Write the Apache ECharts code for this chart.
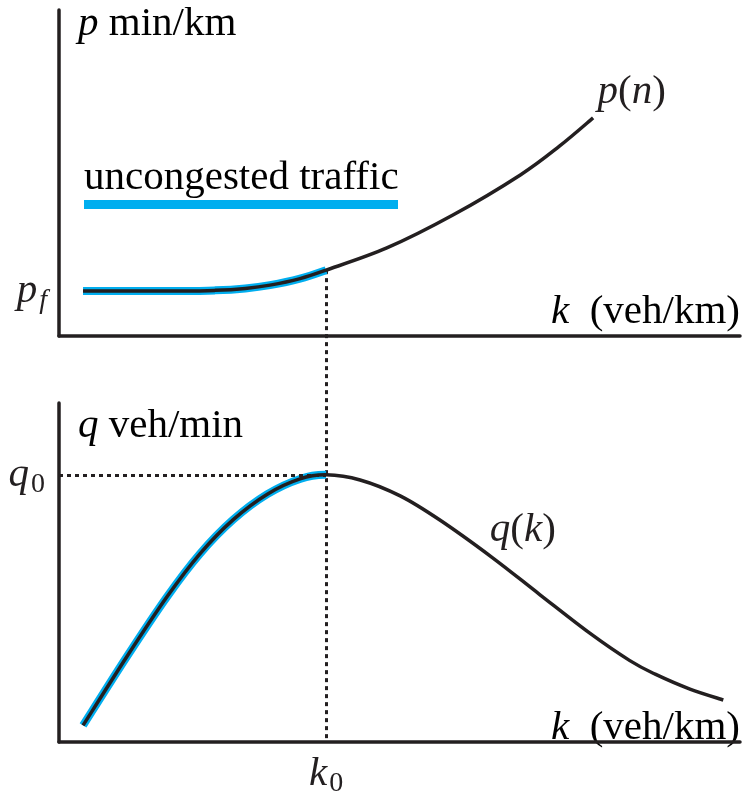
<!DOCTYPE html>
<html>
<head>
<meta charset="utf-8">
<title>Travel time and flow against density</title>
<script src="https://cdn.jsdelivr.net/npm/echarts@6/dist/echarts.min.js"></script>
<style>
  html, body { margin: 0; padding: 0; background: #fff; }
  #chart { width: 747px; height: 798px; }
</style>
</head>
<body>
<div id="chart"></div>
<script>
// Travel time per km p against density k (upper panel)
const kTop = [0.36, 1.81, 2.34, 2.79, 3.16, 3.61, 4.0, 4.91, 5.90, 6.91, 7.50, 8.0];
const pVal = [1.38, 1.38, 1.40, 1.46, 1.56, 1.76, 2.02, 2.70, 3.71, 4.94, 5.83, 6.69];

// Flow q against density k (lower panel)
const kBot = [0.36, 1.02, 1.62, 2.11, 2.61, 3.12, 3.61, 4.0, 4.51, 5.11, 5.71, 6.49, 7.20, 7.95, 8.55, 8.93, 9.45, 9.95];
const qVal = [0.49, 2.53, 4.29, 5.55, 6.56, 7.31, 7.76, 7.88, 7.73, 7.26, 6.54, 5.44, 4.35, 3.21, 2.40, 2.00, 1.56, 1.24];

// Reference values marked on the axes
const k0 = 4.0;
const pFree = 1.38;
const q0 = 7.88;
const pAtK0 = 2.02;

// Where the q(k) name sits along the curve
const qNameAt = [6.49, 5.44];

// Axis extents
const kMax = 10.2;
const yMax = 10;

const INK = '#231f20';
const BLUE = '#00aeef';
const FONT = '"Liberation Serif", "DejaVu Serif", serif';

const rich = {
  i: { fontFamily: FONT, fontStyle: 'italic', fontSize: 41, color: INK, lineHeight: 48, verticalAlign: 'middle' },
  t: { fontFamily: FONT, fontSize: 41, color: INK, lineHeight: 48, verticalAlign: 'middle' },
  si: { fontFamily: FONT, fontStyle: 'italic', fontSize: 28, color: INK, verticalAlign: 'bottom', padding: [0, 0, 0, 2] },
  s: { fontFamily: FONT, fontSize: 28, color: INK, verticalAlign: 'bottom', padding: [0, 0, 0, 2] }
};

function pairs(xs, ys) {
  return xs.map((x, i) => [x, ys[i]]);
}

// A smooth curve through every data point (Catmull-Rom, drawn as cubic Béziers).
// Only the segments up to point `lastIdx` are stroked, but tangents use all points,
// so a partial overlay follows the full curve exactly.
function curveSeries(opts) {
  return {
    type: 'custom',
    name: opts.name,
    xAxisIndex: opts.axis, yAxisIndex: opts.axis,
    z: opts.z, silent: true,
    data: pairs(opts.xs, opts.ys),
    encode: { x: 0, y: 1 },
    renderItem: function (params, api) {
      if (params.dataIndexInside !== 0) return;
      const n = params.dataInsideLength;
      const pts = [];
      for (let i = 0; i < n; i++) pts.push(api.coord([api.value(0, i), api.value(1, i)]));
      const end = Math.min(opts.lastIdx === undefined ? n - 1 : opts.lastIdx, n - 1);
      let d = 'M' + pts[0][0] + ',' + pts[0][1];
      for (let i = 0; i < end; i++) {
        const p0 = pts[Math.max(i - 1, 0)], p1 = pts[i], p2 = pts[i + 1], p3 = pts[Math.min(i + 2, n - 1)];
        const c1 = [p1[0] + (p2[0] - p0[0]) / 6, p1[1] + (p2[1] - p0[1]) / 6];
        const c2 = [p2[0] - (p3[0] - p1[0]) / 6, p2[1] - (p3[1] - p1[1]) / 6];
        d += ' C' + c1[0] + ',' + c1[1] + ' ' + c2[0] + ',' + c2[1] + ' ' + p2[0] + ',' + p2[1];
      }
      return {
        type: 'path',
        shape: { pathData: d },
        style: { fill: 'none', stroke: opts.color, lineWidth: opts.width, lineJoin: 'round', lineCap: 'butt' }
      };
    },
    markPoint: opts.markPoint,
    markLine: opts.markLine
  };
}

const axisLine = { show: true, onZero: false, lineStyle: { color: INK, width: 3.5 } };
const hiddenMark = { symbol: 'rect', symbolSize: [1, 1], itemStyle: { color: 'rgba(0,0,0,0)' } };

const chart = echarts.init(document.getElementById('chart'), null, { renderer: 'canvas' });

chart.setOption({
  animation: false,
  backgroundColor: '#fff',
  grid: [
    { left: 59, right: 7, top: 10, bottom: 462 },
    { left: 59, right: 7, top: 403, bottom: 48 }
  ],
  xAxis: [
    {
      gridIndex: 0, type: 'value', min: 0, max: kMax,
      axisLine: axisLine, axisTick: { show: false }, splitLine: { show: false },
      axisLabel: { show: false }
    },
    {
      gridIndex: 1, type: 'value', min: 0, max: kMax,
      axisLine: axisLine, axisTick: { show: false }, splitLine: { show: false },
      axisLabel: {
        show: true, customValues: [k0], margin: 8,
        formatter: () => '{i|k}{s|0}', rich: rich
      }
    }
  ],
  yAxis: [
    {
      gridIndex: 0, type: 'value', min: 0, max: yMax,
      axisLine: axisLine, axisTick: { show: false }, splitLine: { show: false },
      axisLabel: {
        show: true, customValues: [pFree], margin: 12,
        formatter: () => '{i|p}{si|f}', rich: rich
      }
    },
    {
      gridIndex: 1, type: 'value', min: 0, max: yMax,
      axisLine: axisLine, axisTick: { show: false }, splitLine: { show: false },
      axisLabel: {
        show: true, customValues: [q0], margin: 14,
        formatter: () => '{i|q}{s|0}', rich: rich
      }
    }
  ],
  series: [
    curveSeries({
      name: 'uncongested p', axis: 0, xs: kTop, ys: pVal, lastIdx: kTop.indexOf(k0),
      color: BLUE, width: 8, z: 2
    }),
    curveSeries({
      name: 'p(n)', axis: 0, xs: kTop, ys: pVal,
      color: INK, width: 3.5, z: 3,
      markPoint: Object.assign({
        silent: true,
        label: {
          show: true, position: 'right', distance: 4, offset: [0, -26],
          formatter: () => '{i|p}{t|(}{i|n}{t|)}', rich: rich
        },
        data: [{ coord: [kTop[kTop.length - 1], pVal[pVal.length - 1]] }]
      }, hiddenMark)
    }),
    curveSeries({
      name: 'uncongested q', axis: 1, xs: kBot, ys: qVal, lastIdx: kBot.indexOf(k0),
      color: BLUE, width: 8, z: 2
    }),
    curveSeries({
      name: 'q(k)', axis: 1, xs: kBot, ys: qVal,
      color: INK, width: 3.5, z: 3,
      markLine: {
        silent: true, symbol: 'none', label: { show: false },
        lineStyle: { color: INK, width: 3, type: [4, 4] },
        data: [[{ coord: [0, q0] }, { coord: [k0, q0] }]]
      },
      markPoint: Object.assign({
        silent: true,
        label: {
          show: true, position: 'right', distance: 0, offset: [-3, -27],
          formatter: () => '{i|q}{t|(}{i|k}{t|)}', rich: rich
        },
        data: [{ coord: qNameAt }]
      }, hiddenMark)
    })
  ]
});

// Dotted guide at k0 from the travel-time curve down to the lower k axis
const pTop = chart.convertToPixel({ xAxisIndex: 0, yAxisIndex: 0 }, [k0, pAtK0]);
const pBot = chart.convertToPixel({ xAxisIndex: 1, yAxisIndex: 1 }, [k0, 0]);

chart.setOption({
  graphic: [
    {
      type: 'line', z: 1, silent: true,
      shape: { x1: Math.round(pTop[0]) + 0.5, y1: pTop[1], x2: Math.round(pBot[0]) + 0.5, y2: pBot[1] },
      style: { stroke: INK, lineWidth: 3, lineDash: [4, 4] }
    },
    {
      type: 'text', left: 78, top: 4, silent: true,
      style: { text: '{i|p}{t| min/km}', rich: rich }
    },
    {
      type: 'text', right: 7, top: 292, silent: true,
      style: { text: '{i|k}{t|  (veh/km)}', rich: rich }
    },
    {
      type: 'text', left: 78, top: 406, silent: true,
      style: { text: '{i|q}{t| veh/min}', rich: rich }
    },
    {
      type: 'text', right: 7, top: 708, silent: true,
      style: { text: '{i|k}{t|  (veh/km)}', rich: rich }
    },
    {
      type: 'text', left: 84, top: 158, silent: true,
      style: { text: '{t|uncongested traffic}', rich: rich }
    },
    {
      type: 'rect', left: 84, top: 200, silent: true,
      shape: { width: 314, height: 9 },
      style: { fill: BLUE }
    }
  ]
});
</script>
</body>
</html>
